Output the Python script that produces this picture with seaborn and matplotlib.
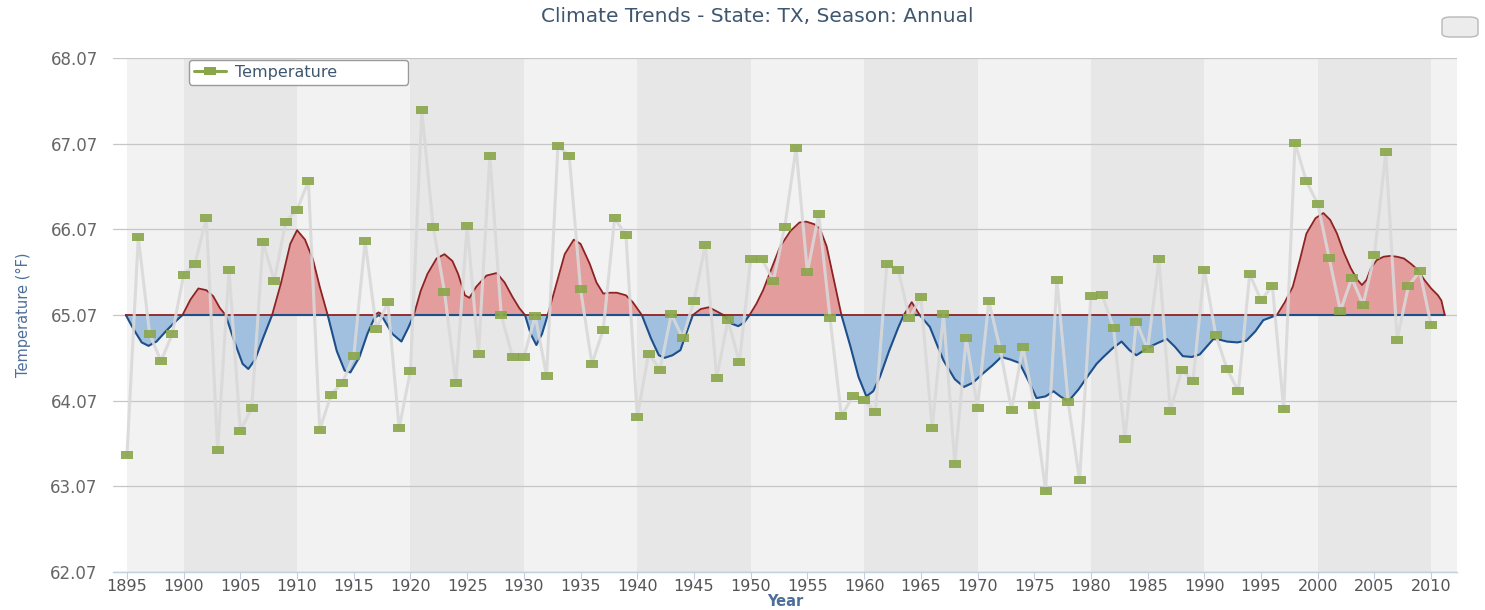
import numpy as np
import matplotlib
matplotlib.use("Agg")
import matplotlib.pyplot as plt
from matplotlib.lines import Line2D
from matplotlib.patches import FancyBboxPatch
import seaborn as sns

# annual mean temperature, TX
years = np.arange(1895, 2011)
temperature = [
    63.43, 65.98, 64.85, 64.53, 64.85, 65.54, 65.67, 66.20, 63.49, 65.60,
    63.72, 63.98, 65.92, 65.47, 66.16, 66.30, 66.63, 63.73, 64.14, 64.28,
    64.59, 65.93, 64.91, 65.22, 63.75, 64.42, 67.46, 66.10, 65.34, 64.28,
    66.11, 64.62, 66.93, 65.07, 64.58, 64.58, 65.06, 64.36, 67.04, 66.93,
    65.37, 64.50, 64.90, 66.20, 66.00, 63.88, 64.62, 64.43, 65.08, 64.80,
    65.23, 65.89, 64.34, 65.01, 64.52, 65.72, 65.72, 65.47, 66.10, 67.02,
    65.57, 66.25, 65.03, 63.89, 64.12, 64.08, 63.94, 65.66, 65.60, 65.03,
    65.28, 63.75, 65.08, 63.33, 64.80, 63.99, 65.23, 64.67, 63.96, 64.70,
    64.02, 63.02, 65.48, 64.05, 63.14, 65.29, 65.30, 64.92, 63.62, 64.99,
    64.67, 65.72, 63.95, 64.43, 64.30, 65.60, 64.84, 64.44, 64.18, 65.55,
    65.24, 65.41, 63.97, 67.08, 66.63, 66.37, 65.74, 65.12, 65.50, 65.19,
    65.77, 66.97, 64.78, 65.41, 65.58, 64.95,
]

# smoothed trend curve
smooth_years = [
    1894.9, 1895.6, 1896.3, 1896.9, 1897.6, 1898.5, 1899.4, 1899.9, 1900.6, 1901.3,
    1902.0, 1902.6, 1903.2, 1903.7, 1904.5, 1905.2, 1905.7, 1906.3, 1907.0, 1907.8,
    1908.6, 1909.4, 1910.0, 1910.7, 1911.4, 1912.0, 1912.7, 1913.5, 1914.2, 1914.7,
    1915.5, 1916.2, 1916.8, 1917.2, 1917.6, 1918.4, 1919.2, 1919.8, 1920.3, 1920.9,
    1921.5, 1922.3, 1923.0, 1923.7, 1924.2, 1924.8, 1925.2, 1925.8, 1926.7, 1927.6,
    1928.3, 1929.0, 1929.6, 1930.1, 1930.6, 1931.1, 1931.6, 1932.1, 1932.8, 1933.6,
    1934.4, 1935.0, 1935.8, 1936.4, 1937.0, 1937.6, 1938.2, 1939.0, 1939.6, 1940.4,
    1941.2, 1941.9, 1942.4, 1943.1, 1943.8, 1944.3, 1944.9, 1945.6, 1946.3, 1946.9,
    1947.6, 1948.3, 1948.9, 1949.4, 1949.9, 1950.5, 1951.1, 1951.8, 1952.6, 1953.5,
    1954.3, 1954.9, 1955.6, 1956.1, 1956.7, 1957.3, 1958.0, 1958.8, 1959.5, 1960.2,
    1960.8, 1961.4, 1962.2, 1963.0, 1963.5, 1964.2, 1964.9, 1965.8, 1966.5, 1967.0,
    1968.0, 1968.8, 1969.6, 1970.5, 1971.3, 1972.1, 1972.9, 1973.7, 1974.5, 1975.2,
    1976.0, 1976.7, 1977.3, 1978.0, 1978.9, 1979.9, 1980.5, 1981.1, 1981.9, 1982.7,
    1983.4, 1984.0, 1984.6, 1985.2, 1986.0, 1986.7, 1987.4, 1988.1, 1988.9, 1989.6,
    1990.2, 1990.8, 1991.4, 1992.0, 1992.9, 1993.7, 1994.5, 1995.2, 1995.8, 1996.4,
    1997.1, 1997.8, 1998.4, 1999.0, 1999.8, 2000.5, 2001.1, 2001.7, 2002.3, 2002.9,
    2003.5, 2003.9, 2004.3, 2004.7, 2005.2, 2005.8, 2006.4, 2007.0, 2007.6, 2008.2,
    2008.8, 2009.4, 2010.0, 2010.6, 2010.9, 2011.2,
]
smooth_values = [
    65.07, 64.90, 64.75, 64.71, 64.76, 64.89, 65.01, 65.07, 65.25, 65.38,
    65.36, 65.29, 65.15, 65.07, 64.75, 64.50, 64.44, 64.55, 64.80, 65.07,
    65.45, 65.90, 66.06, 65.95, 65.72, 65.40, 65.07, 64.65, 64.42, 64.40,
    64.58, 64.85, 65.03, 65.10, 65.03, 64.85, 64.76, 64.92, 65.07, 65.35,
    65.55, 65.73, 65.78, 65.70, 65.55, 65.30, 65.27, 65.40, 65.53, 65.56,
    65.45, 65.28, 65.15, 65.07, 64.85, 64.72, 64.85, 65.07, 65.40, 65.78,
    65.95, 65.90, 65.67, 65.45, 65.32, 65.33, 65.33, 65.30, 65.22, 65.07,
    64.80, 64.60, 64.57, 64.60, 64.66, 64.85, 65.07, 65.14, 65.16, 65.12,
    65.07, 64.97, 64.94, 64.98, 65.07, 65.20, 65.36, 65.60, 65.87, 66.05,
    66.15, 66.16, 66.13, 66.08, 65.87, 65.50, 65.07, 64.70, 64.35, 64.12,
    64.18, 64.35, 64.65, 64.92, 65.07, 65.22, 65.07, 64.93, 64.70, 64.54,
    64.32, 64.23, 64.28, 64.39, 64.48, 64.58, 64.55, 64.51, 64.30, 64.10,
    64.12, 64.18, 64.12, 64.06, 64.20, 64.39, 64.50, 64.58, 64.68, 64.76,
    64.66, 64.60, 64.65, 64.70, 64.75, 64.79, 64.70, 64.59, 64.58, 64.61,
    64.70, 64.79, 64.78, 64.76, 64.75, 64.77, 64.88, 65.01, 65.04, 65.07,
    65.22, 65.40, 65.70, 66.02, 66.20, 66.26, 66.18, 66.02, 65.80, 65.62,
    65.48, 65.42, 65.48, 65.62, 65.71, 65.75, 65.76, 65.75, 65.73, 65.67,
    65.60, 65.48, 65.38, 65.30, 65.24, 65.07,
]
baseline = 65.07

y_ticks = [62.07, 63.07, 64.07, 65.07, 66.07, 67.07, 68.07]
x_ticks = list(range(1895, 2011, 5))
dark_bands = [(1900, 1910), (1920, 1930), (1940, 1950), (1960, 1970), (1980, 1990), (2000, 2010)]

sns.set_theme(style="white")
plt.rcParams['font.family'] = ['DejaVu Sans']

fig = plt.figure(figsize=(14.85, 6.10), dpi=100)
ax = fig.add_axes([113 / 1485, 1 - 572 / 610, (1457 - 113) / 1485, (572 - 58) / 610])
ax.set_facecolor("white")

x_min, x_max = 1893.77, 2012.28
ax.set_xlim(x_min, x_max)
ax.set_ylim(62.07, 68.07)

# alternating decade bands
ax.axvspan(1895, x_max, color="#f2f2f2", lw=0, zorder=0)
for start, end in dark_bands:
    ax.axvspan(start, end, color="#e7e7e7", lw=0, zorder=0)

for yv in y_ticks:
    ax.axhline(yv, color="#c6c6c6", lw=0.9, zorder=1)

# trend area: red above the 65.07 mean, blue below
sx = np.array(smooth_years)
sv = np.array(smooth_values)
upper = np.maximum(sv, baseline)
lower = np.minimum(sv, baseline)
ax.fill_between(sx, baseline, upper, color="#e49d9d", lw=0, zorder=2)
ax.fill_between(sx, lower, baseline, color="#a1bfdf", lw=0, zorder=2)
ax.plot(sx, lower, color="#1d4f8a", lw=1.5, zorder=3)
ax.plot(sx, upper, color="#8e2222", lw=1.3, zorder=3)

# temperature series
rect = [(-1, -0.6), (1, -0.6), (1, 0.6), (-1, 0.6), (-1, -0.6)]
sns.lineplot(x=years, y=temperature, ax=ax, color="#d9d9d9", lw=2.2, alpha=0.9,
             marker=rect, markersize=8.5, markerfacecolor="#8aa64a",
             markeredgecolor="#8aa64a", markeredgewidth=0, zorder=4,
             legend=False)

ax.set_xticks(x_ticks)
ax.set_xticklabels([str(v) for v in x_ticks], fontsize=11.5, color="#555555")
ax.set_yticks(y_ticks)
ax.set_yticklabels([f"{v:.2f}" for v in y_ticks], fontsize=12, color="#666666")
ax.tick_params(axis="x", length=5, width=0.8, color="#c0d0e0", pad=0, bottom=True)
ax.tick_params(axis="y", length=0, pad=11)

for side in ["top", "right", "left"]:
    ax.spines[side].set_visible(False)
ax.spines["bottom"].set_color("#c0d0e0")
ax.spines["bottom"].set_linewidth(1)

ax.set_xlabel("Year", fontsize=10.5, fontweight="bold", color="#4d6f99", labelpad=0)
ax.set_ylabel("Temperature (°F)", fontsize=10.5, color="#4d6f99", labelpad=14)

fig.text(757 / 1485, 1 - 17 / 610, "Climate Trends - State: TX, Season: Annual",
         ha="center", va="center", fontsize=14.5, color="#3e576f")

handle = Line2D([], [], color="#8aa64a", lw=2.2, marker=rect, markersize=8.5,
                markerfacecolor="#8aa64a", markeredgewidth=0)
leg = ax.legend([handle], ["Temperature"], loc="upper left",
                bbox_to_anchor=(76 / 1344, 1 - 29 / 514, 219 / 1344, 27 / 514),
                mode="expand", fontsize=11.5, frameon=True, fancybox=True,
                handlelength=2.0, borderpad=0.3, handletextpad=0.6,
                borderaxespad=0)
leg.get_frame().set_edgecolor("#9a9a9a")
leg.get_frame().set_linewidth(1.0)
leg.get_frame().set_facecolor("white")
leg.get_frame().set_alpha(1)
for t in leg.get_texts():
    t.set_color("#3e576f")
leg.set_zorder(6)

# export button in the top-right corner
btn = FancyBboxPatch((1442 / 1485, 1 - 37 / 610), 36 / 1485, 20 / 610,
                     boxstyle="round,pad=0,rounding_size=0.006",
                     transform=fig.transFigure, facecolor="#ececec",
                     edgecolor="#b8b8b8", lw=1.0)
fig.patches.append(btn)

fig.savefig("out.png", dpi=100)
